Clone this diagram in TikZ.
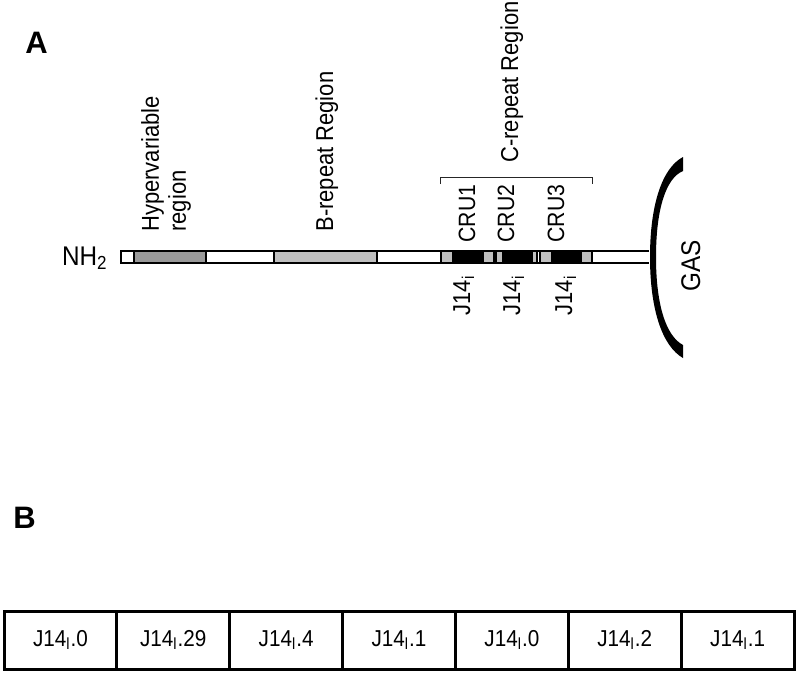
\documentclass[tikz,border=0pt]{standalone}
\usepackage{fontspec}
\setmainfont[FakeStretch=0.9]{Liberation Sans}
\newfontfamily\panelfont{Liberation Sans}
\usetikzlibrary{positioning}

\begin{document}
\begin{tikzpicture}[x=0.5pt, y=-0.5pt,
    seg/.style={draw=black, line width=0.65pt},
    vlbl/.style={rotate=90, inner sep=0pt, font=\fontsize{12.2}{13.5}\selectfont},
    panel/.style={font=\panelfont\fontsize{15.5}{16}\bfseries\selectfont, anchor=base west, inner sep=0pt},
    cell/.style={draw=black, line width=1.5pt, minimum width=56.43pt, minimum height=29pt,
                 inner sep=0pt, outer sep=0pt, font=\fontsize{11.5}{12}\selectfont}]
    \useasboundingbox (0,0) rectangle (798,675);

    % Panel A: protein layout
    \node[panel] (labA) at (25,53) {A};
    \node[font=\fontsize{13.5}{15}\selectfont, anchor=base east, inner sep=0pt] (nh) at (108,265) {NH\textsubscript{2}};

    % backbone, open at the cell wall end
    \fill[white] (121,251) rectangle (649,263);
    \draw[seg] (649,251) -- (121,251) -- (121,263) -- (649,263);

    % regions and repeat blocks
    \foreach \a/\b/\c in {134/206/black!40, 274/377/black!25,
                          441/453/black!25, 453/483/black, 483/494/black!25,
                          496/503/black!25, 503/532/black, 532/537/black!25,
                          540/552/black!25, 552/581/black, 581/592/black!25} {
        \draw[seg, fill=\c] (\a,251) rectangle (\b,263);
    }

    % region labels
    \node[vlbl, anchor=west, align=left] (hyper) at (166,232) {Hypervariable\\region};
    \node[vlbl, anchor=base west] (brep) at (333,232) {B-repeat Region};
    \node[vlbl, anchor=base west] (crep) at (518,163) {C-repeat Region};

    % bracket over the C-repeats
    \draw[line width=0.5pt, black!85] (440,184) -- (440,177) -- (592,177) -- (592,184);

    % CRU labels above, J14 below
    \foreach \x/\n in {475/1, 514/2, 564/3} {
        \node[vlbl, font=\fontsize{11.8}{13}\selectfont, anchor=base west] (cru\n) at (\x,243) {CRU\n};
    }
    \foreach \x/\n in {470/1, 520/2, 572/3} {
        \node[vlbl, anchor=base east] (jay\n) at (\x,275) {J14\textsubscript{i}};
    }

    % GAS surface
    \fill[black] (683,157) .. controls (662,168) and (650,205) .. (650,257)
        .. controls (650,309) and (662,346) .. (683,358) -- (683,345)
        .. controls (666,336) and (656,305) .. (656,257)
        .. controls (656,209) and (666,178) .. (683,171) -- cycle;
    \node[vlbl, font=\fontsize{13.5}{15}\selectfont, anchor=base west] (gas) at (700,292) {GAS};

    % Panel B: repeat sequence
    \node[panel] (labB) at (13,528) {B};
    \foreach \t [count=\i] in {0,29,4,1,0,2,1} {
        \node[cell] (cell\i) at ({4+112.86*(\i-0.5)},640) {J14\textsubscript{l}.\t};
    }
\end{tikzpicture}
\end{document}
